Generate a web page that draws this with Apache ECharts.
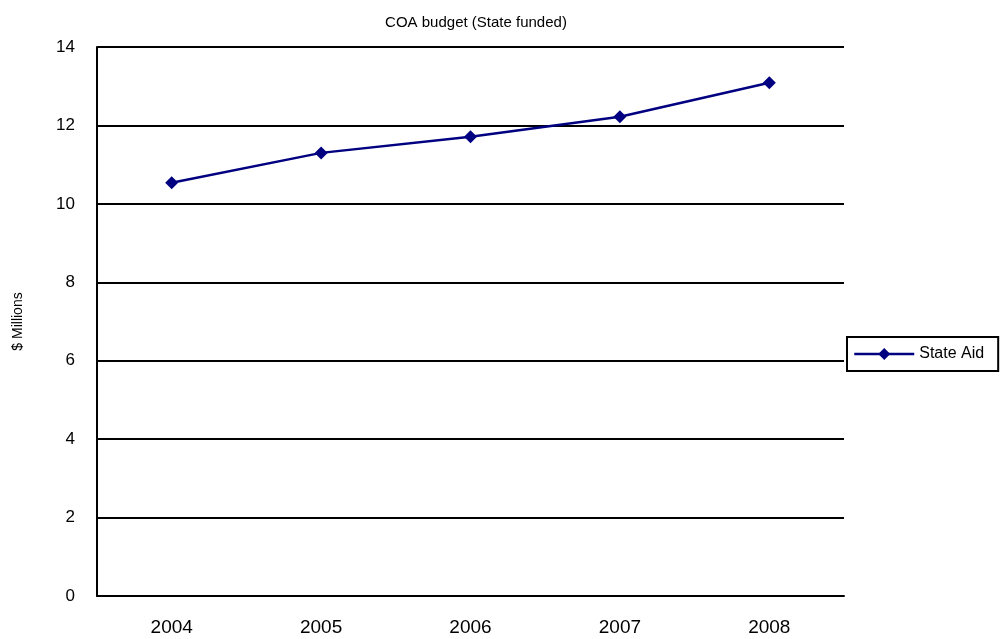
<!DOCTYPE html>
<html><head><meta charset="utf-8">
<script src="https://cdn.jsdelivr.net/npm/echarts@6/dist/echarts.min.js"></script>
<style>html,body{margin:0;padding:0;background:#fff}#c{width:1006px;height:639px}</style>
</head><body><div id="c"></div>
<script>
const categories = ['2004','2005','2006','2007','2008'];
const stateAid = [10.54, 11.30, 11.71, 12.22, 13.09];
const yTicks = [0, 2, 4, 6, 8, 10, 12, 14];

const chart = echarts.init(document.getElementById('c'));
chart.setOption({
  animation: false,
  title: { text: 'COA budget (State funded)', left: 471, top: 10, textAlign: 'center',
    textStyle: { fontFamily: 'Liberation Sans, Arial', fontSize: 15, fontWeight: 'normal', color: '#000' } },
  grid: { left: 97, right: 162, top: 47, bottom: 43 },
  legend: {
    data: [{ name: 'State Aid' }], orient: 'vertical', left: 847, top: 337,
    borderColor: '#000', borderWidth: 2, padding: [9, 14, 9, 6], itemWidth: 60, itemHeight: 15, itemGap: 0,
    lineStyle: { width: 2.5, color: '#000080' },
    textStyle: { fontFamily: 'Liberation Sans, Arial', fontSize: 16, color: '#000' }
  },
  xAxis: {
    type: 'category', data: categories, boundaryGap: true,
    axisLine: { lineStyle: { color: '#000', width: 2 } },
    axisTick: { show: false },
    axisLabel: { fontFamily: 'Liberation Sans, Arial', fontSize: 19, color: '#000', margin: 22 }
  },
  yAxis: {
    type: 'value', min: yTicks[0], max: yTicks[yTicks.length - 1], interval: 2,
    name: '$ Millions', nameLocation: 'middle', nameGap: 72, nameRotate: 90,
    nameTextStyle: { fontFamily: 'Liberation Sans, Arial', fontSize: 14, color: '#000' },
    axisLine: { show: true, lineStyle: { color: '#000', width: 2 } },
    axisTick: { show: false },
    splitLine: { lineStyle: { color: '#000', width: 2 } },
    axisLabel: { fontFamily: 'Liberation Sans, Arial', fontSize: 17, color: '#000', margin: 22,
      formatter: v => yTicks.includes(v) ? String(v) : '' }
  },
  series: [{
    name: 'State Aid', type: 'line', data: stateAid,
    symbol: 'diamond', symbolSize: 13,
    lineStyle: { color: '#000080', width: 2.5 },
    itemStyle: { color: '#000080' }
  }]
});
</script></body></html>
